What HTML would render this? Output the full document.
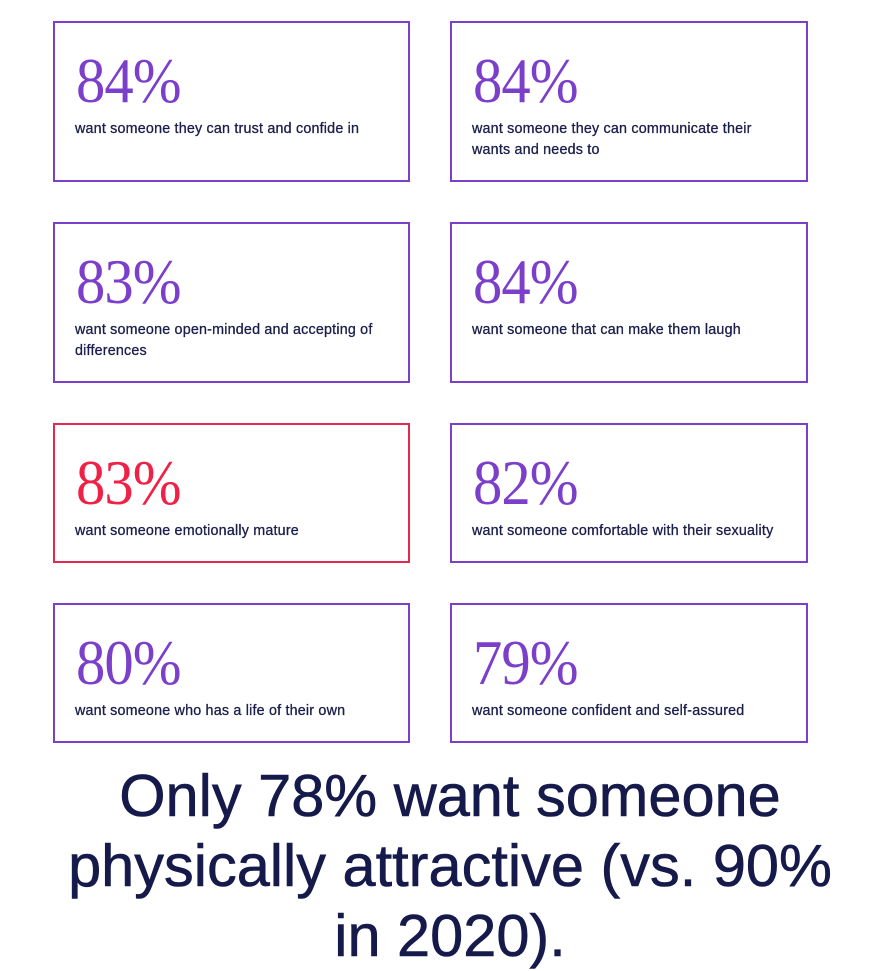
<!DOCTYPE html>
<html><head><meta charset="utf-8"><style>
body{margin:0;width:874px;height:968px;background:#fff;position:relative;overflow:hidden;font-family:"Liberation Sans",sans-serif}
.b{position:absolute;box-sizing:border-box;border:2px solid #7b3fc9}
.b.r{border-color:#e3294f}
.n{position:absolute;left:21px;top:27px;font-family:"Liberation Serif",serif;font-size:63px;line-height:62px;letter-spacing:-1px;color:#7b3fc9;transform:scaleX(0.93);transform-origin:left}
.r .n{color:#ef2146}
.t{position:absolute;left:20px;top:96px;width:310px;font-size:14.3px;letter-spacing:0.2px;line-height:21px;color:#1a1e4a;-webkit-text-stroke:0.3px #1a1e4a}
.h{position:absolute;left:13px;width:874px;top:761px;text-align:center;font-size:59.5px;line-height:70px;color:#151a4b;-webkit-text-stroke:0.6px #151a4b;white-space:nowrap}
</style></head><body>
<div class="b" style="left:53px;top:21px;width:357px;height:161px"><div class="n">84%</div><div class="t">want someone they can trust and confide in</div></div>
<div class="b" style="left:450px;top:21px;width:358px;height:161px"><div class="n">84%</div><div class="t">want someone they can communicate their wants and needs to</div></div>
<div class="b" style="left:53px;top:222px;width:357px;height:161px"><div class="n">83%</div><div class="t">want someone open-minded and accepting of differences</div></div>
<div class="b" style="left:450px;top:222px;width:358px;height:161px"><div class="n">84%</div><div class="t">want someone that can make them laugh</div></div>
<div class="b r" style="left:53px;top:423px;width:357px;height:140px"><div class="n">83%</div><div class="t">want someone emotionally mature</div></div>
<div class="b" style="left:450px;top:423px;width:358px;height:140px"><div class="n">82%</div><div class="t">want someone comfortable with their sexuality</div></div>
<div class="b" style="left:53px;top:603px;width:357px;height:140px"><div class="n">80%</div><div class="t">want someone who has a life of their own</div></div>
<div class="b" style="left:450px;top:603px;width:358px;height:140px"><div class="n">79%</div><div class="t">want someone confident and self-assured</div></div>
<div class="h">Only 78% want someone<br>physically attractive (vs. 90%<br>in 2020).</div>
</body></html>
